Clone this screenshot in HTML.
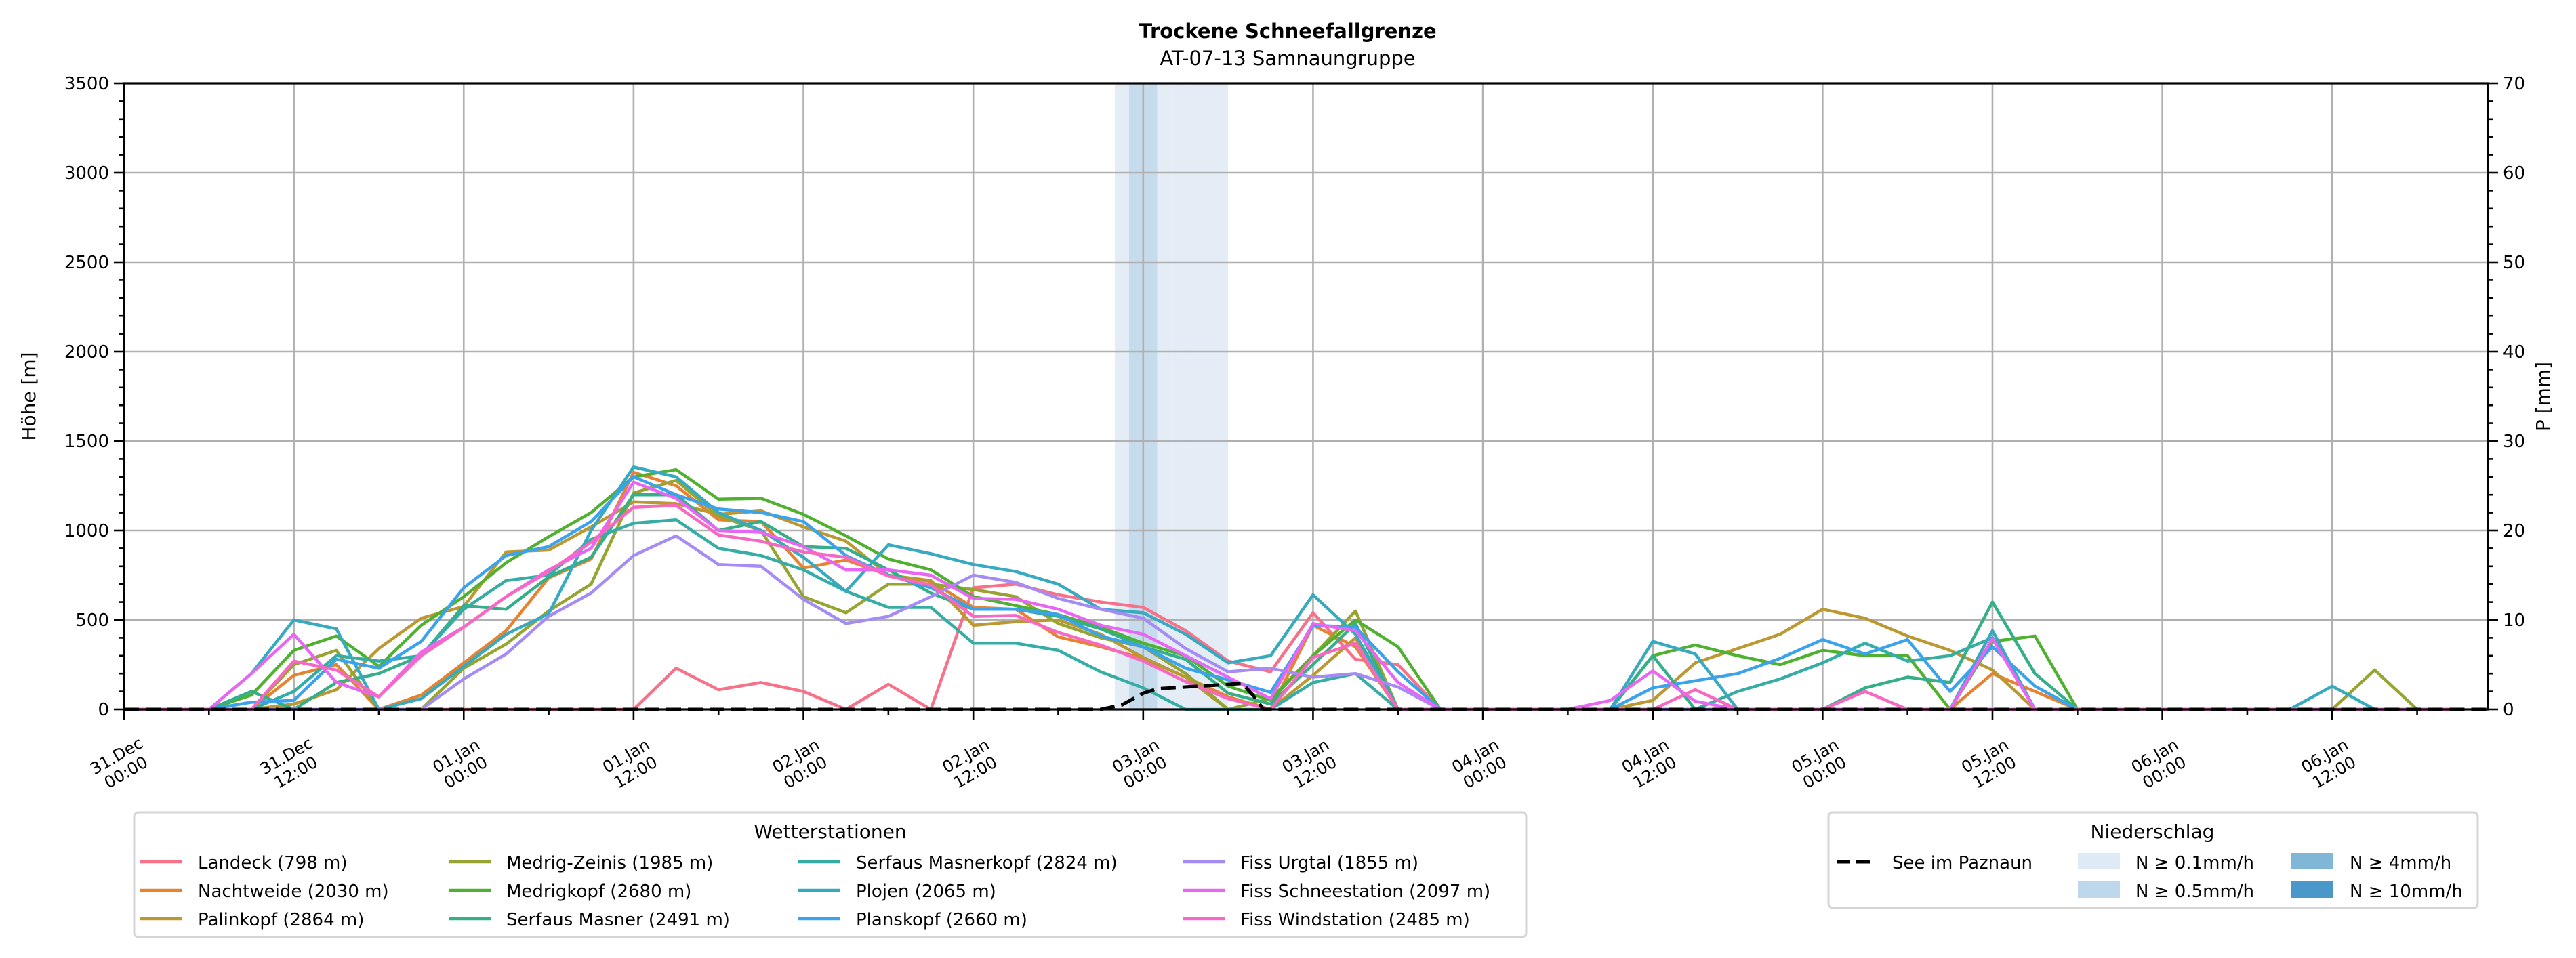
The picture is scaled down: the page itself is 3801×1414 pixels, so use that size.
<!DOCTYPE html>
<html><head><meta charset="utf-8">
<style>
html,body{margin:0;padding:0;background:#fff;}
svg{display:block;font-family:"DejaVu Sans","Liberation Sans",sans-serif;}
</style></head>
<body>
<svg id="chart" xmlns="http://www.w3.org/2000/svg" width="3801" height="1414" viewBox="0 0 3801 1414">
<rect x="0" y="0" width="3801" height="1414" fill="#fff"/>
<text x="1900" y="56" text-anchor="middle" font-size="29" font-weight="bold">Trockene Schneefallgrenze</text>
<text x="1900" y="96" text-anchor="middle" font-size="29">AT-07-13 Samnaungruppe</text>
<g id="bands"></g>
<g id="grid"></g>
<g id="series"></g>
<g id="precip"></g>
<g id="axes"></g>
<text transform="translate(52,585) rotate(-90)" text-anchor="middle" font-size="28">Höhe [m]</text>
<text transform="translate(3762,585) rotate(-90)" text-anchor="middle" font-size="28">P [mm]</text>
<g>
<rect x="198" y="1199" width="2054" height="184" rx="6" fill="#fff" stroke="#d5d5d5" stroke-width="3"/>
<text x="1225" y="1237" text-anchor="middle" font-size="28">Wetterstationen</text>
<g id="legend1"></g>
</g>
<g>
<rect x="2698" y="1199" width="958" height="141" rx="6" fill="#fff" stroke="#d5d5d5" stroke-width="3"/>
<text x="3176" y="1237" text-anchor="middle" font-size="28">Niederschlag</text>
<line x1="2710" y1="1272" x2="2764" y2="1272" stroke="#000" stroke-width="5" stroke-dasharray="20 9"/>
<text x="2792" y="1282" font-size="26">See im Paznaun</text>
<rect x="3066" y="1259" width="62" height="24" fill="#deebf7"/>
<text x="3151" y="1282" font-size="26">N ≥ 0.1mm/h</text>
<rect x="3066" y="1301" width="62" height="25" fill="#bdd7ec"/>
<text x="3151" y="1324" font-size="26">N ≥ 0.5mm/h</text>
<rect x="3381" y="1259" width="62" height="24" fill="#80b6d6"/>
<text x="3467" y="1282" font-size="26">N ≥ 4mm/h</text>
<rect x="3381" y="1301" width="62" height="25" fill="#4a98c9"/>
<text x="3467" y="1324" font-size="26">N ≥ 10mm/h</text>
</g>
</svg>
<script>
const hours = [0,3,6,9,12,15,18,21,24,27,30,33,36,39,42,45,48,51,54,57,60,63,66,69,72,75,78,81,84,87,90,93,96,99,102,105,108,111,114,117,120,123,126,129,132,135,138,141,144,147,150,153,156,159,162,165];
const stationNames = ["Landeck (798 m)","Nachtweide (2030 m)","Palinkopf (2864 m)","Medrig-Zeinis (1985 m)","Medrigkopf (2680 m)","Serfaus Masner (2491 m)","Serfaus Masnerkopf (2824 m)","Plojen (2065 m)","Planskopf (2660 m)","Fiss Urgtal  (1855 m)","Fiss Schneestation (2097 m)","Fiss Windstation (2485 m)"];
const stationColors = ["#f77189","#e68332","#bb9832","#97a431","#50b131","#34af8a","#36ada4","#38aabf","#3ba3ec","#a48cf4","#e866f4","#f668c2"];
const landeck = [0,0,0,0,0,0,0,0,0,0,0,0,0,230,110,150,100,0,140,0,680,700,640,600,570,440,270,210,540,280,250,0,0,0,0,0,0,0,0,0,0,0,0,0,0,0,0,0,0,0,0,0,0,0,0,0];
const nachtweide = [0,0,0,0,190,250,0,80,260,440,735,840,1325,1250,1060,1050,790,835,750,715,570,560,405,350,285,180,70,0,470,350,0,0,0,0,0,0,0,0,0,0,0,0,0,0,200,100,0,0,0,0,0,0,0,0,0,0];
const palinkopf = [0,0,0,0,30,110,340,510,575,880,890,1020,1160,1150,1090,1110,1020,940,750,720,470,490,500,420,290,180,0,0,190,400,0,0,0,0,0,0,50,260,340,420,560,510,410,330,220,0,0,0,0,0,0,0,0,0,0,0];
const medrigZeinis = [0,0,0,0,250,330,0,0,230,365,550,700,1210,1280,1080,1000,630,540,700,700,670,630,480,400,350,200,0,60,300,550,0,0,0,0,0,0,0,0,0,0,0,0,0,0,0,0,0,0,0,0,0,0,0,220,0,0];
const medrigkopf = [0,0,0,80,330,410,240,470,630,820,965,1100,1300,1340,1175,1180,1090,970,840,780,630,580,530,460,370,300,130,50,300,500,350,0,0,0,0,0,300,360,300,250,330,300,300,0,380,410,0,0,0,0,0,0,0,0,0,0];
const serfausMasner = [0,0,0,100,0,150,200,300,580,560,740,850,1200,1200,1000,1050,910,900,780,650,560,560,520,450,350,280,90,30,250,480,0,0,0,0,0,0,300,0,0,0,0,120,180,150,600,200,0,0,0,0,0,0,0,0,0,0];
const serfausMasnerkopf = [0,0,0,0,100,300,270,300,560,720,750,950,1040,1060,900,860,780,660,570,570,370,370,330,210,120,0,0,0,150,200,0,0,0,0,0,0,0,0,100,170,260,370,270,300,400,0,0,0,0,0,0,0,0,0,0,0];
const plojen = [0,0,0,200,500,450,0,60,240,420,535,1000,1355,1300,1100,1000,850,660,920,870,810,770,700,560,540,420,260,300,640,420,0,0,0,0,0,0,380,310,0,0,0,0,0,0,440,0,0,0,0,0,0,0,130,0,0,0];
const planskopf = [0,0,0,40,50,280,230,380,680,860,910,1050,1300,1200,1120,1100,1050,860,750,680,560,560,530,410,350,230,165,95,470,460,210,0,0,0,0,0,120,160,200,285,390,310,390,100,350,130,0,0,0,0,0,0,0,0,0,0];
const fissUrgtal = [0,0,0,0,0,0,0,0,170,310,520,650,860,970,810,800,615,480,520,630,750,710,620,560,510,340,210,230,180,200,125,0,0,0,0,0,0,0,0,0,0,0,0,0,0,0,0,0,0,0,0,0,0,0,0,0];
const fissSchneestation = [0,0,0,200,420,150,70,320,460,630,780,900,1270,1180,1000,990,910,780,780,750,620,615,560,470,420,300,180,60,480,440,150,0,0,0,0,50,215,45,0,0,0,0,0,0,395,0,0,0,0,0,0,0,0,0,0,0];
const fissWindstation = [0,0,0,0,270,220,70,300,460,630,770,935,1130,1140,975,940,880,850,745,695,520,525,430,360,270,155,60,0,290,370,0,0,0,0,0,0,0,110,0,0,0,100,0,0,0,0,0,0,0,0,0,0,0,0,0,0];
const stationValues = [landeck,nachtweide,palinkopf,medrigZeinis,medrigkopf,serfausMasner,serfausMasnerkopf,plojen,planskopf,fissUrgtal,fissSchneestation,fissWindstation];
const lakeHours = [0,69,70.5,72,73,76,79,79.8,80.5,167];
const lakePrecip = [0,0,0.5,1.8,2.3,2.6,2.9,1.5,0,0];
const bandHours = [70,71,72,73,74,75,76,77];
const bandLevel = [1,2,2,1,1,1,1,1];
const yTicks = [0,500,1000,1500,2000,2500,3000,3500];
const y2Ticks = [0,10,20,30,40,50,60,70];
const xTickHours = [0,12,24,36,48,60,72,84,96,108,120,132,144,156];
const xTickLabels = [["31.Dec","00:00"],["31.Dec","12:00"],["01.Jan","00:00"],["01.Jan","12:00"],["02.Jan","00:00"],["02.Jan","12:00"],["03.Jan","00:00"],["03.Jan","12:00"],["04.Jan","00:00"],["04.Jan","12:00"],["05.Jan","00:00"],["05.Jan","12:00"],["06.Jan","00:00"],["06.Jan","12:00"]];

const L=183,R=3671,T=123,B=1047, XMAX=167, YMAX=3500, Y2MAX=70;
const NS="http://www.w3.org/2000/svg";
function xs(h){return L+(R-L)*h/XMAX;}
function ys(v){return B-(B-T)*v/YMAX;}
function y2s(p){return B-(B-T)*p/Y2MAX;}
function mk(tag,attrs,parent){const e=document.createElementNS(NS,tag);for(const k in attrs)e.setAttribute(k,attrs[k]);parent.appendChild(e);return e;}

const bandsG=document.getElementById('bands');
bandHours.forEach((h,i)=>{
  const r=mk('rect',{x:xs(h),y:T,width:xs(h+1)-xs(h),height:B-T,fill:bandLevel[i]>=2?'#c6dbeb':'#e4edf6'},bandsG);
  
  
});

const grid=document.getElementById('grid');
xTickHours.forEach(h=>{
  const l=mk('line',{x1:xs(h),y1:T,x2:xs(h),y2:B,stroke:'#b0b0b0','stroke-width':2.6},grid);
  
  
});
yTicks.forEach(v=>{
  const l=mk('line',{x1:L,y1:ys(v),x2:R,y2:ys(v),stroke:'#b0b0b0','stroke-width':2.6},grid);
  
  
});

const sg=document.getElementById('series');
stationValues.forEach((vals,si)=>{
  let d='';
  vals.forEach((v,i)=>{d+=(i?'L':'M')+xs(hours[i]).toFixed(1)+','+ys(v).toFixed(1);});
  const p=mk('path',{d:d,fill:'none',stroke:stationColors[si],'stroke-width':4.5,'stroke-linejoin':'round'},sg);
  
  
});

const pg=document.getElementById('precip');
let pd='';
lakeHours.forEach((h,i)=>{pd+=(i?'L':'M')+xs(h).toFixed(1)+','+y2s(lakePrecip[i]).toFixed(1);});
const lp=mk('path',{d:pd,fill:'none',stroke:'#000','stroke-width':5,'stroke-dasharray':'22 10'},pg);



const ax=document.getElementById('axes');
const frame=mk('rect',{x:L,y:T,width:R-L,height:B-T,fill:'none',stroke:'#000','stroke-width':3.2},ax);


for(let v=0;v<=YMAX;v+=100){
  const major=v%500===0;
  const t=mk('line',{x1:L-(major?15:8),y1:ys(v),x2:L,y2:ys(v),stroke:'#000','stroke-width':2.6},ax);
  
  
}
yTicks.forEach(v=>{
  const t=mk('text',{x:L-22,y:ys(v)+9,'text-anchor':'end','font-size':26},ax);
  t.textContent=v;
  
  
});
for(let p=0;p<=Y2MAX;p+=2){
  const major=p%10===0;
  const t=mk('line',{x1:R,y1:y2s(p),x2:R+(major?15:8),y2:y2s(p),stroke:'#000','stroke-width':2.6},ax);
  
  
}
y2Ticks.forEach(p=>{
  const t=mk('text',{x:R+22,y:y2s(p)+9,'text-anchor':'start','font-size':26},ax);
  t.textContent=p;
  
  
});
for(let h=0;h<=XMAX;h+=6){
  const major=h%12===0;
  const t=mk('line',{x1:xs(h),y1:B,x2:xs(h),y2:B+(major?15:8),stroke:'#000','stroke-width':2.6},ax);
  
  
}
xTickHours.forEach((h,i)=>{
  const cx=xs(h)-4, cy=1128;
  const t=mk('text',{x:cx,y:cy-6,'text-anchor':'middle','font-size':24,transform:'rotate(-30 '+cx+' '+cy+')'},ax);
  
  
  const a=mk('tspan',{x:cx,dy:0},t); a.textContent=xTickLabels[i][0];
  const b=mk('tspan',{x:cx,dy:28},t); b.textContent=xTickLabels[i][1];
});

const lg=document.getElementById('legend1');
const colX=[207,662,1178,1745];
const rowY=[1272,1314,1356];
stationNames.forEach((n,i)=>{
  const c=Math.floor(i/3), r=i%3;
  const l=mk('line',{x1:colX[c],y1:rowY[r],x2:colX[c]+62,y2:rowY[r],stroke:stationColors[i],'stroke-width':4.5},lg);
  
  
  const t=mk('text',{x:colX[c]+85,y:rowY[r]+10,'font-size':26,'xml:space':'preserve'},lg);
  t.textContent=n;
  
  
});
</script>
</body></html>
